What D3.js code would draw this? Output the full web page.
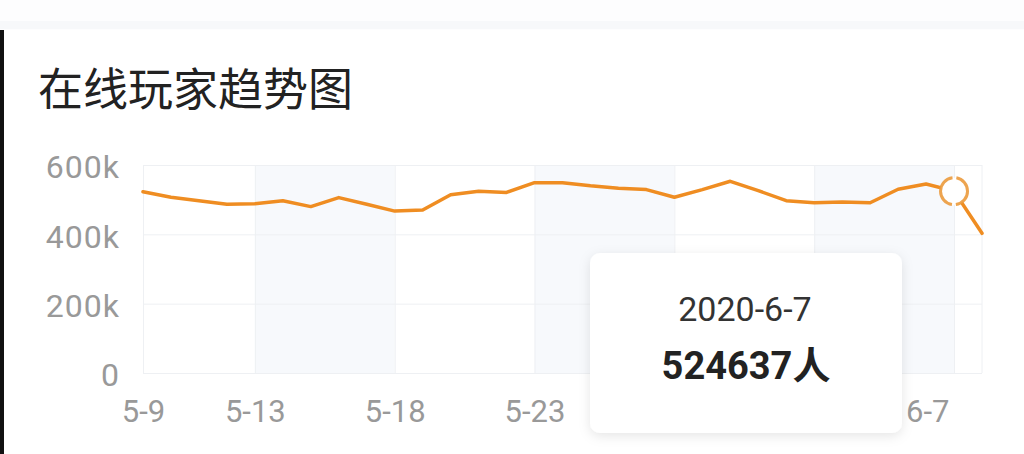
<!DOCTYPE html>
<html>
<head>
    <meta charset="utf-8">
    <title>在线玩家趋势图</title>
    <script src="https://d3js.org/d3.v7.min.js"></script>
    <style>
        body, html {
            margin: 0;
            padding: 0;
            background: #fff;
        }
        svg {
            display: block;
        }
        .axis text {
            font-family: Roboto, "Noto Sans", sans-serif;
            font-size: 31px;
            fill: #999;
        }
        .y-axis text {
            font-size: 32px;
            letter-spacing: 1px;
        }
        .axis .domain {
            display: none;
        }
        .axis line {
            stroke: #eef0f3;
            stroke-width: 1px;
        }
    </style>
</head>
<body>
    <svg></svg>

    <script>
        // Data
        const dates = ["2020-05-09", "2020-05-10", "2020-05-11", "2020-05-12", "2020-05-13",
            "2020-05-14", "2020-05-15", "2020-05-16", "2020-05-17", "2020-05-18",
            "2020-05-19", "2020-05-20", "2020-05-21", "2020-05-22", "2020-05-23",
            "2020-05-24", "2020-05-25", "2020-05-26", "2020-05-27", "2020-05-28",
            "2020-05-29", "2020-05-30", "2020-05-31", "2020-06-01", "2020-06-02",
            "2020-06-03", "2020-06-04", "2020-06-05", "2020-06-06", "2020-06-07",
            "2020-06-08"];
        const players = [523000, 507000, 497000, 487000, 488000,
            497000, 480000, 506000, 487000, 467000,
            470000, 514000, 524000, 521000, 549000,
            549000, 540000, 533000, 529000, 507000,
            529000, 553000, 526000, 497000, 491000,
            493000, 491000, 530000, 545000, 524637,
            403000];
        const xTicks = ["2020-05-09", "2020-05-13", "2020-05-18", "2020-05-23",
            "2020-05-28", "2020-06-02", "2020-06-07"];
        const yTicks = [0, 200000, 400000, 600000];
        const bands = [["2020-05-13", "2020-05-18"], ["2020-05-23", "2020-05-28"], ["2020-06-02", "2020-06-07"]];
        const title = "在线玩家趋势图";
        const activeDate = "2020-06-07";

        const parse = d3.timeParse("%Y-%m-%d");
        const fmt = d3.timeFormat("%-m-%-d");
        const data = dates.map((d, i) => ({ date: parse(d), value: players[i] }));

        const width = 1024, height = 454;
        const plotLeft = 143, plotRight = 982, plotTop = 165, plotBottom = 373;

        const svg = d3.select("svg")
            .attr("width", width)
            .attr("height", height);

        // shadow for the tooltip card
        const defs = svg.append("defs");
        const filter = defs.append("filter").attr("id", "shadow")
            .attr("x", "-20%").attr("y", "-20%").attr("width", "140%").attr("height", "140%");
        filter.append("feDropShadow")
            .attr("dx", 0).attr("dy", 3)
            .attr("stdDeviation", 6)
            .attr("flood-color", "#000")
            .attr("flood-opacity", 0.1);

        // faint top strip from the page
        svg.append("rect").attr("x", 0).attr("y", 0).attr("width", width).attr("height", 30)
            .attr("fill", "#fdfdfe");
        svg.append("rect").attr("x", 0).attr("y", 21).attr("width", width).attr("height", 8)
            .attr("fill", "#f7f8fa");

        const x = d3.scaleTime()
            .domain(d3.extent(data, d => d.date))
            .range([plotLeft, plotRight]);

        const y = d3.scaleLinear()
            .domain([0, 600000])
            .range([plotBottom, plotTop]);

        // title
        svg.append("text")
            .attr("x", 38)
            .attr("y", 106)
            .attr("font-family", "'Noto Sans CJK SC', sans-serif")
            .attr("font-size", 45)
            .attr("fill", "#222")
            .text(title);

        // shaded bands
        svg.append("g")
            .selectAll("rect")
            .data(bands)
            .enter().append("rect")
            .attr("x", d => x(parse(d[0])))
            .attr("y", plotTop)
            .attr("width", d => x(parse(d[1])) - x(parse(d[0])))
            .attr("height", plotBottom - plotTop)
            .attr("fill", "#f7f9fc");

        // y axis with horizontal grid
        const yAxis = svg.append("g")
            .attr("class", "axis y-axis")
            .attr("transform", `translate(${plotLeft},0)`)
            .call(d3.axisLeft(y)
                .tickValues(yTicks)
                .tickSize(-(plotRight - plotLeft))
                .tickPadding(23)
                .tickFormat(d => d === 0 ? "0" : (d / 1000) + "k"));
        yAxis.selectAll("text").attr("dy", "0.4em");

        // x axis with vertical grid
        const xAxis = svg.append("g")
            .attr("class", "axis")
            .attr("transform", `translate(0,${plotBottom})`)
            .call(d3.axisBottom(x)
                .tickValues(xTicks.map(parse))
                .tickSize(-(plotBottom - plotTop))
                .tickPadding(27)
                .tickFormat(fmt));
        xAxis.selectAll("text")
            .filter(d => fmt(d) === "6-7")
            .attr("text-anchor", "end")
            .attr("x", -5);

        // right edge line
        svg.append("line")
            .attr("x1", plotRight).attr("x2", plotRight)
            .attr("y1", plotTop).attr("y2", plotBottom)
            .attr("stroke", "#eef0f3");

        // the line
        const line = d3.line()
            .x(d => x(d.date))
            .y(d => y(d.value));

        svg.append("path")
            .datum(data)
            .attr("fill", "none")
            .attr("stroke", "#ef8d22")
            .attr("stroke-width", 3.5)
            .attr("stroke-linejoin", "round")
            .attr("stroke-linecap", "round")
            .attr("d", line);

        // active point
        const active = data.find(d => fmt(d.date) === fmt(parse(activeDate)));
        const r = 13.5, c = 2 * Math.PI * r;
        svg.append("circle")
            .attr("cx", x(active.date))
            .attr("cy", y(active.value))
            .attr("r", r)
            .attr("fill", "#fff")
            .attr("stroke", "#eb9a3c")
            .attr("stroke-opacity", 0.9)
            .attr("stroke-width", 3)
            .attr("stroke-dasharray", `${c / 4 - 2} 4 ${c / 2 - 4} 4 ${c / 4 - 2} 0`);

        // tooltip card
        const tip = svg.append("g");
        tip.append("rect")
            .attr("x", 590).attr("y", 253)
            .attr("width", 312).attr("height", 180)
            .attr("rx", 10)
            .attr("fill", "#fff")
            .attr("filter", "url(#shadow)");
        tip.append("text")
            .attr("x", 745).attr("y", 321)
            .attr("text-anchor", "middle")
            .attr("font-family", "Roboto, 'Noto Sans', sans-serif")
            .attr("font-size", 34)
            .attr("fill", "#333")
            .text(d3.timeFormat("%Y-%-m-%-d")(active.date));
        tip.append("text")
            .attr("x", 746).attr("y", 379)
            .attr("text-anchor", "middle")
            .attr("font-family", "Roboto, 'Noto Sans CJK SC', sans-serif")
            .attr("font-weight", "bold")
            .attr("font-size", 38)
            .attr("fill", "#222")
            .text(active.value + "人");

        // dark screen edge on the left
        svg.append("rect").attr("x", 0).attr("y", 30).attr("width", 4).attr("height", height - 30)
            .attr("fill", "#111");
    </script>
</body>
</html>
